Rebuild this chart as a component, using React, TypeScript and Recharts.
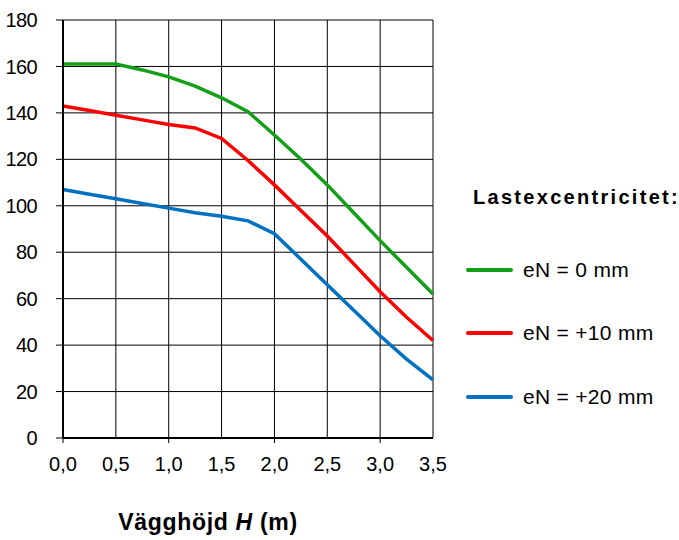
import React from 'react';
import { LineChart, Line, XAxis, YAxis, CartesianGrid, Label } from 'recharts';

const heights = [0, 0.25, 0.5, 0.75, 1.0, 1.25, 1.5, 1.75, 2.0, 2.25, 2.5, 2.75, 3.0, 3.25, 3.5];
const en0 = [161, 161, 161, 158.5, 155.5, 151.5, 146.5, 140.5, 130.5, 120, 109, 97, 85, 73.5, 62];
const en10 = [143, 141, 139, 137, 135, 133.5, 129, 119.5, 109, 98, 87, 75, 63, 52, 42];
const en20 = [107, 105, 103, 101, 99, 97, 95.5, 93.5, 88, 77, 66, 55, 44, 34, 25];

const xTicks = [0, 0.5, 1, 1.5, 2, 2.5, 3, 3.5];
const yTicks = [0, 20, 40, 60, 80, 100, 120, 140, 160, 180];

const seriesNames = ['eN = 0 mm', 'eN = +10 mm', 'eN = +20 mm'];
const colors = ['#13a018', '#ff0000', '#0070c0'];

const data = heights.map((h, i) => ({ h, en0: en0[i], en10: en10[i], en20: en20[i] }));

const font = '"Liberation Sans", Arial, sans-serif';

const XTick = (props: any) => {
  const { x, y, payload } = props;
  const v = payload.value as number;
  return (
    <g>
      {Number.isInteger(v) && <line x1={x} x2={x} y1={y - 20} y2={y - 14} stroke="#000" strokeWidth={1} />}
      <text x={x} y={y} dy="0.71em" textAnchor="middle" fontSize={20} fontFamily={font} fill="#000">
        {v.toFixed(1).replace('.', ',')}
      </text>
    </g>
  );
};

const AxisTitle = (props: any) => {
  const vb = props.viewBox;
  return (
    <text x={vb.x + vb.width / 2 - 40} y={530} textAnchor="middle" fontSize={23} fontWeight="bold" letterSpacing={0.7} fontFamily={font} fill="#000">
      Vägghöjd <tspan fontStyle="italic">H</tspan> (m)
    </text>
  );
};

const App: React.FC = () => {
  return (
    <div style={{ position: 'relative', width: 679, height: 540, background: '#fff', fontFamily: font }}>
      <style>{`body{margin:0}`}</style>
      <LineChart width={679} height={540} data={data} margin={{ top: 20, right: 246, left: 18, bottom: 62 }}>
        <CartesianGrid stroke="#000" strokeWidth={1} />
        <XAxis
          dataKey="h"
          type="number"
          domain={[0, 3.5]}
          ticks={xTicks}
          tickLine={false}
          tickSize={6}
          tickMargin={13}
          height={40}
          axisLine={{ stroke: '#000', strokeWidth: 2 }}
          tick={<XTick />}
        >
          <Label content={<AxisTitle />} />
        </XAxis>
        <YAxis
          type="number"
          domain={[0, 180]}
          ticks={yTicks}
          width={45}
          tickSize={7}
          tickMargin={19}
          interval={0}
          axisLine={{ stroke: '#000', strokeWidth: 2 }}
          tickLine={{ stroke: '#000' }}
          tick={{ fontSize: 20, fill: '#000', fontFamily: font, letterSpacing: -0.6 }}
        />
        <Line dataKey="en0" type="linear" stroke={colors[0]} strokeWidth={3.5} dot={false} isAnimationActive={false} />
        <Line dataKey="en10" type="linear" stroke={colors[1]} strokeWidth={3.5} dot={false} isAnimationActive={false} />
        <Line dataKey="en20" type="linear" stroke={colors[2]} strokeWidth={3.5} dot={false} isAnimationActive={false} />
      </LineChart>
      <div style={{ position: 'absolute', left: 473, top: 185, fontSize: 20, fontWeight: 'bold', letterSpacing: 2.3, whiteSpace: 'nowrap', lineHeight: '24px' }}>
        Lastexcentricitet:
      </div>
      {seriesNames.map((name, i) => (
        <div key={name} style={{ position: 'absolute', left: 466, top: [258, 321, 385][i], height: 24, display: 'flex', alignItems: 'center', whiteSpace: 'nowrap' }}>
          <span style={{ display: 'inline-block', width: 47, height: 4, borderRadius: 2, background: colors[i], marginRight: 10 }} />
          <span style={{ fontSize: 21, letterSpacing: 0.3 }}>{name}</span>
        </div>
      ))}
    </div>
  );
};

export default App;
